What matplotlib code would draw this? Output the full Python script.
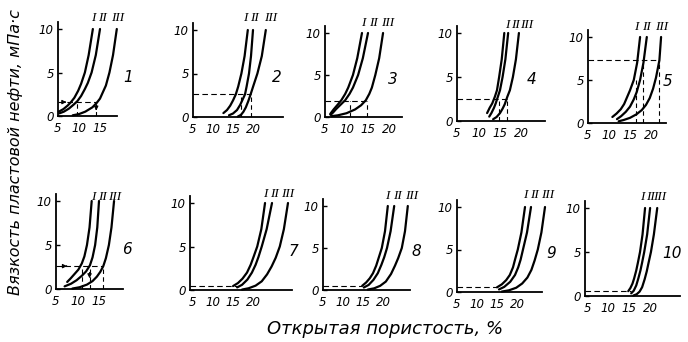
import matplotlib
matplotlib.use("Agg")
import matplotlib.pyplot as plt

W, H = 688, 342

# viscosity curves I, II, III for each of the 10 nomograms (x = open porosity %, y = viscosity mPa*s)
P1_X = [[5.2, 6.3, 7.3, 8.1, 8.9, 9.8, 10.5, 11.4, 12.3, 13.3],
        [5.3, 6.4, 7.6, 8.7, 9.6, 10.5, 11.4, 12.1, 13.0, 14.0, 15.0],
        [8.5, 10.0, 11.5, 13.2, 14.2, 15.0, 15.7, 16.4, 17.25, 18.1, 19.0]]
P1_Y = [[0.5, 0.8, 1.2, 1.6, 2.1, 2.9, 3.7, 5, 7, 10],
        [0.3, 0.5, 0.85, 1.3, 1.7, 2.3, 3.1, 3.8, 5, 7, 10],
        [0.08, 0.22, 0.5, 1.0, 1.5, 2.0, 2.75, 3.5, 5, 7, 10]]

P2_X = [[12.6, 13.5, 14.3, 15.0, 15.7, 16.3, 17.1, 17.9, 18.7],
        [14.0, 15.0, 16.0, 16.8, 17.4, 18.0, 18.4, 19.0, 19.5, 20.0],
        [16.2, 17.0, 17.6, 18.2, 18.8, 19.4, 20.1, 21.1, 22.2, 23.2]]
P2_Y = [[0.45, 0.8, 1.3, 1.9, 2.6, 3.5, 5, 7, 10],
        [0.2, 0.4, 0.8, 1.4, 2.0, 2.6, 3.5, 5, 7, 10],
        [0.05, 0.25, 0.6, 1.1, 1.8, 2.6, 3.6, 5, 7, 10]]

P3_X = [[6.2, 7.0, 8.0, 8.8, 9.7, 10.4, 11.5, 12.5, 13.6],
        [6.3, 6.9, 7.6, 8.7, 9.7, 10.7, 11.5, 12.7, 13.8, 15.0],
        [6.5, 8.0, 10.0, 12.0, 13.4, 14.5, 15.3, 15.9, 16.7, 17.6, 18.5]]
P3_Y = [[0.35, 0.9, 1.5, 2, 2.75, 3.5, 5, 7, 10],
        [0.25, 0.55, 0.95, 1.5, 2.0, 2.75, 3.5, 5, 7, 10],
        [0.1, 0.2, 0.45, 0.9, 1.4, 2, 2.75, 3.5, 5, 7, 10]]

P4_X = [[12.0, 12.6, 13.2, 13.8, 14.3, 14.8, 15.4, 16.0],
        [12.5, 13.0, 13.6, 14.0, 14.5, 15.0, 15.6, 16.25, 16.9],
        [13.4, 14.2, 15.0, 15.6, 16.1, 16.7, 17.3, 18.0, 18.7, 19.4]]
P4_Y = [[0.9, 1.5, 2, 2.75, 3.5, 5, 7, 10],
        [0.5, 0.9, 1.5, 2, 2.75, 3.5, 5, 7, 10],
        [0.2, 0.45, 0.9, 1.4, 1.9, 2.75, 3.5, 5, 7, 10]]

P5_X = [[10.8, 11.8, 12.8, 13.6, 14.3, 15.0, 15.9, 16.7, 17.4],
        [11.9, 12.9, 14.0, 15.0, 15.9, 16.6, 17.4, 18.2, 19.0],
        [12.3, 13.5, 15.0, 16.5, 17.8, 18.8, 19.7, 20.5, 21.2, 22.0, 22.4]]
P5_Y = [[0.7, 1.1, 1.6, 2.2, 3, 3.8, 5, 7, 10],
        [0.45, 0.8, 1.3, 1.9, 2.75, 3.6, 5, 7, 10],
        [0.2, 0.35, 0.6, 1.0, 1.5, 2.1, 2.9, 4, 5.3, 7.3, 10]]

P6_X = [[7.6, 8.4, 9.3, 10.2, 11.0, 11.6, 12.2, 12.8, 13.3],
        [7.0, 8.5, 9.8, 11.0, 12.0, 12.9, 13.5, 14.1, 14.6, 15.0],
        [8.8, 10.5, 12.2, 13.5, 14.5, 15.3, 16.0, 16.6, 17.3, 17.9, 18.5]]
P6_Y = [[0.8, 1.2, 1.7, 2.2, 2.9, 3.7, 5, 7, 10],
        [0.3, 0.6, 1.0, 1.5, 2.0, 2.7, 3.6, 5, 7, 10],
        [0.05, 0.2, 0.5, 0.9, 1.4, 1.95, 2.6, 3.5, 5, 7, 10]]

P7_X = [[15.0, 16.2, 17.3, 18.4, 19.3, 20.0, 20.9, 21.9, 22.8],
        [16.0, 17.2, 18.5, 19.6, 20.5, 21.2, 22.0, 23.2, 24.5],
        [17.2, 18.8, 20.5, 22.0, 23.3, 24.4, 25.4, 26.4, 27.4, 28.4]]
P7_Y = [[0.45, 0.8, 1.3, 2, 2.9, 3.8, 5, 7, 10],
        [0.3, 0.6, 1.2, 2, 2.9, 3.8, 5, 7, 10],
        [0.05, 0.2, 0.5, 1.0, 1.8, 2.7, 3.7, 5, 7, 10]]

P8_X = [[14.8, 15.8, 16.7, 17.5, 18.3, 18.9, 19.7, 20.5, 21.2],
        [15.2, 16.4, 17.6, 18.7, 19.6, 20.3, 21.0, 21.9, 22.8],
        [16.2, 17.8, 19.3, 20.7, 22.0, 23.0, 23.8, 24.7, 25.5, 26.2]]
P8_Y = [[0.5, 0.9, 1.4, 2, 2.9, 3.8, 5, 7, 10],
        [0.3, 0.6, 1.2, 2, 3, 3.9, 5, 7, 10],
        [0.05, 0.2, 0.5, 1.0, 1.9, 2.9, 3.8, 5, 7, 10]]

P9_X = [[15.0, 16.2, 17.3, 18.2, 19.0, 19.5, 20.2, 21.1, 22.0],
        [15.5, 16.8, 18.3, 19.5, 20.3, 20.9, 21.5, 22.5, 23.5],
        [16.2, 18.0, 19.8, 21.3, 22.6, 23.6, 24.4, 25.2, 26.1, 27.0]]
P9_Y = [[0.55, 0.9, 1.4, 2, 2.9, 3.8, 5, 7, 10],
        [0.3, 0.6, 1.2, 2, 2.9, 3.8, 5, 7, 10],
        [0.05, 0.2, 0.5, 1.0, 1.7, 2.6, 3.7, 5, 7, 10]]

P10_X = [[14.8, 15.3, 15.8, 16.2, 16.7, 17.1, 17.6, 18.2, 18.8],
         [15.5, 16.1, 16.7, 17.2, 17.7, 18.1, 18.6, 19.3, 20.0],
         [16.0, 16.8, 17.5, 18.1, 18.7, 19.2, 19.6, 20.2, 20.9, 21.7]]
P10_Y = [[0.55, 0.9, 1.4, 2, 2.9, 3.8, 5, 7, 10],
         [0.3, 0.6, 1.2, 2, 2.9, 3.8, 5, 7, 10],
         [0.05, 0.2, 0.5, 1.0, 1.9, 2.8, 3.7, 5, 7, 10]]

PANEL_X = [P1_X, P2_X, P3_X, P4_X, P5_X, P6_X, P7_X, P8_X, P9_X, P10_X]
PANEL_Y = [P1_Y, P2_Y, P3_Y, P4_Y, P5_Y, P6_Y, P7_Y, P8_Y, P9_Y, P10_Y]
PANEL_NAMES = ["1", "2", "3", "4", "5", "6", "7", "8", "9", "10"]
CURVE_NAMES = ["I", "II", "III"]

# worked-example dashed lines: level, end of horizontal, verticals as (x, top)
DASH_Y = [1.6, 2.6, 1.9, 2.5, 7.3, 2.6, 0.45, 0.5, 0.6, 0.6]
DASH_X_END = [14.1, 19.4, 14.8, 16.6, 22.0, 16.0, 16.0, 14.8, 15.0, 15.5]
DASH_VERT = [[(9.6, 1.6), (14.1, 1.6)], [(17.0, 2.6), (19.4, 2.6)],
             [(10.8, 1.9), (14.8, 1.9)], [(14.8, 2.5), (16.6, 2.5)],
             [(16.4, 5.0), (18.2, 7.3), (22.0, 7.3)],
             [(11.0, 2.6), (12.8, 2.6), (16.0, 2.6)], [], [], [], []]
Y_TICKS = [0, 5, 10]
X_TICKS_SHORT = [5, 10, 15]
X_TICKS_LONG = [5, 10, 15, 20]

# layout in pixels: y-axis x, y=0 row, y=10 row, x at axis start, x at axis end, px per unit
LAYOUT = [(58, 116, 29, 5, 19.0, 4.2),
          (193, 117, 30, 5, 27.5, 4.0),
          (325, 117, 33, 5, 23.0, 4.3),
          (457, 121, 33, 5, 25.5, 4.3),
          (588, 123, 37, 5, 23.5, 4.2),
          (56, 289, 201, 5, 20.5, 4.3),
          (190, 290, 203, 4.5, 29.4, 4.1),
          (323, 290, 206, 5, 26.8, 4.0),
          (457, 292, 207, 5, 26.2, 4.0),
          (585, 296, 208, 4.5, 27.0, 4.2)]
NAME_POS = [(128, 77), (277, 78), (393, 80), (532, 80), (668, 82),
            (127, 250), (293, 252), (416, 252), (551, 253), (672, 254)]
CURVE_LABEL_POS = [[(93, 18), (102, 18), (118, 18)],
                   [(245, 18), (254, 18), (271, 18)],
                   [(363, 23), (373, 23), (388, 23)],
                   [(507, 25), (515, 25), (527, 25)],
                   [(636, 27), (646, 27), (662, 27)],
                   [(93, 197), (102, 197), (115, 197)],
                   [(265, 194), (274, 194), (288, 194)],
                   [(387, 196), (397, 196), (412, 196)],
                   [(525, 195), (534, 195), (548, 195)],
                   [(642, 197), (650, 197), (660, 197)]]

SANS = "DejaVu Sans"
SERIF = "Liberation Serif"

fig = plt.figure(figsize=(W / 100, H / 100), dpi=100)

for i in range(10):
    left, y0, y10, xmin, xmax, sx = LAYOUT[i]
    ys = (y0 - y10) / 10.0
    wpx = (xmax - xmin) * sx
    hpx = 11 * ys
    ax = fig.add_axes([left / W, (H - y0) / H, wpx / W, hpx / H])
    ax.set_xlim(xmin, xmax)
    ax.set_ylim(0, 11)
    ax.patch.set_alpha(0)
    for s in ["top", "right"]:
        ax.spines[s].set_visible(False)
    ax.spines["left"].set_bounds(0, 10.8)
    ax.spines["left"].set_linewidth(1.3)
    ax.spines["bottom"].set_linewidth(1.3)

    ax.set_yticks(Y_TICKS)
    ax.set_yticklabels([str(t) for t in Y_TICKS], fontsize=8.5, style="italic", family=SANS)
    ax.tick_params(axis="y", direction="in", length=3, width=1, pad=3)
    xt = X_TICKS_SHORT if i in (0, 5) else X_TICKS_LONG
    ax.set_xticks(xt)
    ax.set_xticklabels([str(t) for t in xt], fontsize=8.5, style="italic", family=SANS)
    ax.tick_params(axis="x", length=0, pad=4)

    for c in range(3):
        ax.plot(PANEL_X[i][c], PANEL_Y[i][c], color="black", lw=1.6, clip_on=False,
                solid_capstyle="round", solid_joinstyle="round")
        lx, ly = CURVE_LABEL_POS[i][c]
        fig.text(lx / W, 1 - ly / H, CURVE_NAMES[c], ha="center", va="center",
                 fontsize=9.5, style="italic", family=SERIF)

    ax.plot([xmin, DASH_X_END[i]], [DASH_Y[i], DASH_Y[i]], color="black", lw=0.8,
            dashes=(5, 3), clip_on=False)
    for vx, vtop in DASH_VERT[i]:
        ax.plot([vx, vx], [0, vtop], color="black", lw=0.8, dashes=(4, 3))

    tx, ty = NAME_POS[i]
    fig.text(tx / W, 1 - ty / H, PANEL_NAMES[i], ha="center", va="center",
             fontsize=11, style="italic", family=SANS)

    if i == 0:
        ax.annotate("", xy=(7.0, 1.6), xytext=(5.8, 1.6),
                    arrowprops=dict(arrowstyle="-|>", lw=0.8, color="black", mutation_scale=6))
        ax.annotate("", xy=(14.1, 0.3), xytext=(14.1, 1.2),
                    arrowprops=dict(arrowstyle="-|>", lw=0.8, color="black", mutation_scale=6))
    if i == 5:
        ax.annotate("", xy=(8.2, 2.6), xytext=(6.8, 2.6),
                    arrowprops=dict(arrowstyle="-|>", lw=0.8, color="black", mutation_scale=6))
        ax.annotate("", xy=(12.8, 0.9), xytext=(12.8, 2.2),
                    arrowprops=dict(arrowstyle="-|>", lw=0.8, color="black", mutation_scale=6))

fig.text(16 / W, 1 - 152 / H, "Вязкость пластовой нефти, мПа·с", rotation=90,
         ha="center", va="center", fontsize=11.5, style="italic", family=SANS)
fig.text(385 / W, 1 - 329 / H, "Открытая пористость, %", ha="center", va="center",
         fontsize=13, style="italic", family=SANS)

fig.savefig("out.png", dpi=100)
